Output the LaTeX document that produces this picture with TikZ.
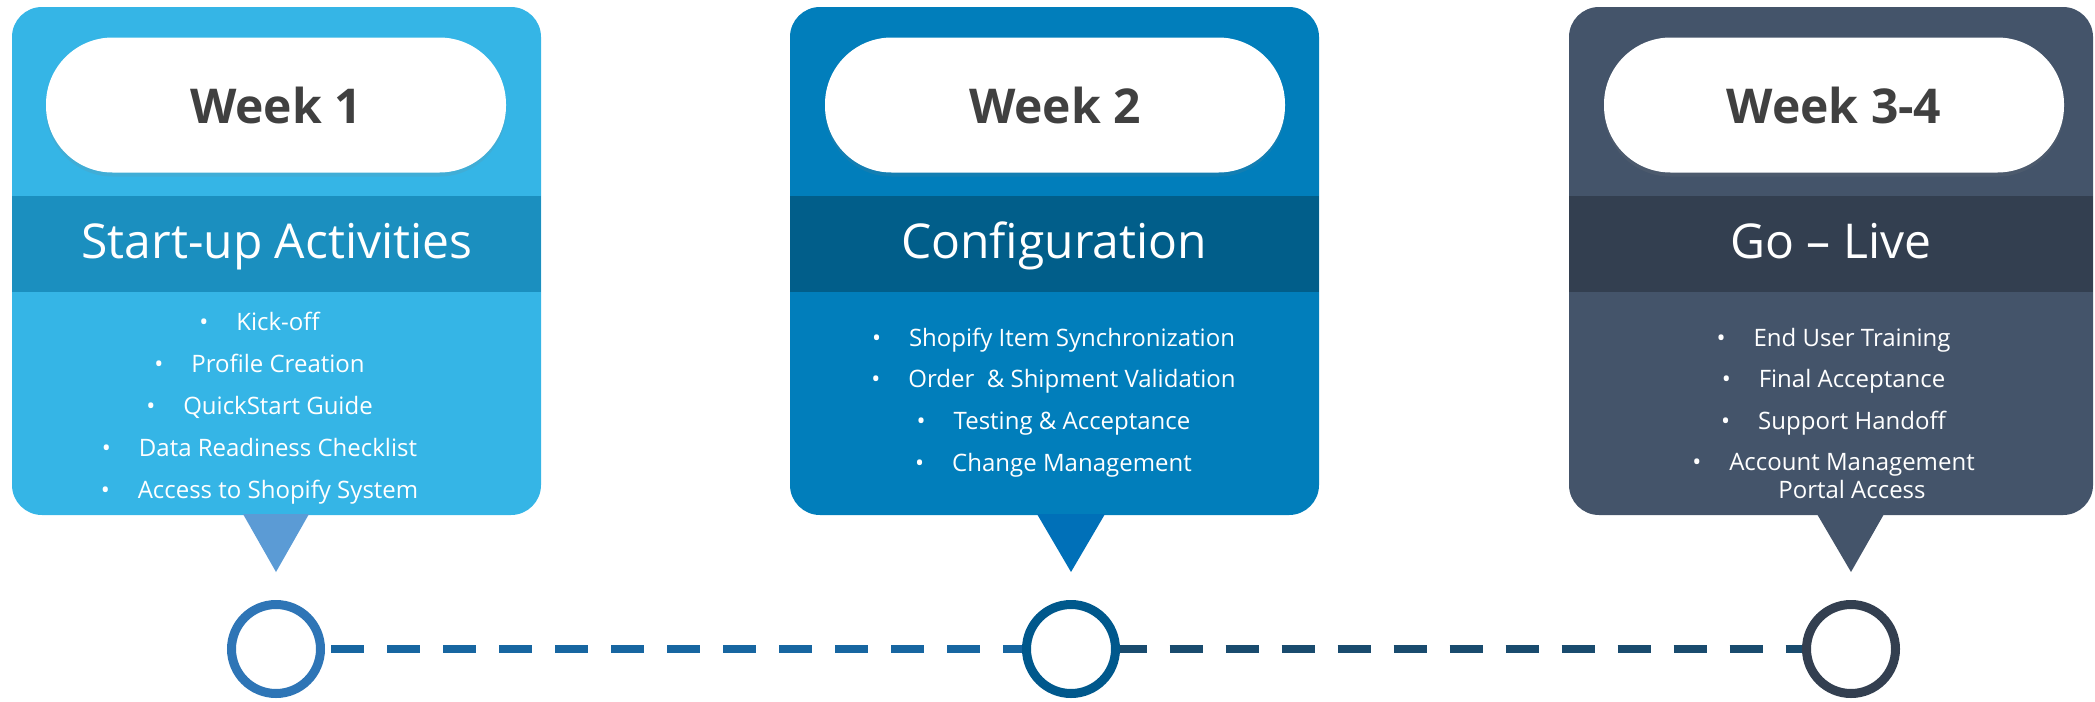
\documentclass[tikz,border=0pt]{standalone}
\usepackage{fontspec}
\setmainfont{Open Sans}
\usetikzlibrary{shadows}

\definecolor{boxA}{RGB}{53,181,230}
\definecolor{bandA}{RGB}{27,143,191}
\definecolor{triA}{RGB}{91,155,213}
\definecolor{ringA}{RGB}{46,117,182}
\definecolor{boxB}{RGB}{1,126,187}
\definecolor{bandB}{RGB}{1,94,138}
\definecolor{triB}{RGB}{0,112,184}
\definecolor{ringB}{RGB}{0,88,140}
\definecolor{boxC}{RGB}{68,84,106}
\definecolor{bandC}{RGB}{51,63,80}
\definecolor{weektext}{RGB}{64,64,64}
\definecolor{dashA}{RGB}{23,102,161}
\definecolor{dashB}{RGB}{25,75,110}

\newcommand{\itm}[1]{\llap{\textbullet\hspace{21pt}}#1}

\begin{document}
\begin{tikzpicture}[x=0.75pt, y=-0.75pt,
  pill/.style={rectangle, rounded corners=50pt, fill=white, minimum width=345pt,
    minimum height=101.25pt, text=weektext, font=\fontsize{36}{40}\selectfont\bfseries,
    drop shadow={opacity=0.15, shadow xshift=0pt, shadow yshift=-3pt}},
  title/.style={anchor=base, text=white, font=\fontsize{36}{40}\selectfont},
  item/.style={anchor=base, text=white, inner sep=0pt, font=\fontsize{18}{22}\selectfont},
  ring/.style={circle, fill=white, line width=6.75pt, minimum size=66.75pt,
    inner sep=0pt, outer sep=3.375pt},
  link/.style={line width=6pt, dash pattern=on 24.75pt off 17.25pt}]
  \useasboundingbox (0,0) rectangle (2095,701);

  \fill[boxA, rounded corners=22.5pt] (12,7) rectangle (541,515);
  \fill[bandA] (12,196) rectangle (541,292);
  \fill[triA] (243,514) -- (309,514) -- (276,572) -- cycle;
  \node[pill] (w1) at (276,105) {Week 1};
  \node[title] (t1) at (277,258) {Start-up Activities};
  \node[item] (a1) at (278,330) {\itm{Kick-off}};
  \node[item] (a2) at (278,372) {\itm{Profile Creation}};
  \node[item] (a3) at (278,414) {\itm{QuickStart Guide}};
  \node[item] (a4) at (278,456) {\itm{Data Readiness Checklist}};
  \node[item] (a5) at (278,498) {\itm{Access to Shopify System}};

  \fill[boxB, rounded corners=22.5pt] (790,7) rectangle (1319,515);
  \fill[bandB] (790,196) rectangle (1319,292);
  \fill[triB] (1037,514) -- (1105,514) -- (1071,572) -- cycle;
  \node[pill] (w2) at (1055,105) {Week 2};
  \node[title] (t2) at (1054,258) {Configuration};
  \node[item] (b1) at (1072,346) {\itm{Shopify Item Synchronization}};
  \node[item] (b2) at (1072,387) {\itm{Order~~\& Shipment Validation}};
  \node[item] (b3) at (1072,429) {\itm{Testing \& Acceptance}};
  \node[item] (b4) at (1072,471) {\itm{Change Management}};

  \fill[boxC, rounded corners=22.5pt] (1569,7) rectangle (2093,515);
  \fill[bandC] (1569,196) rectangle (2093,292);
  \fill[boxC] (1817,514) -- (1884,514) -- (1851,572) -- cycle;
  \node[pill] (w3) at (1834,105) {Week 3-4};
  \node[title] (t3) at (1831,258) {Go – Live};
  \node[item] (g1) at (1852,346) {\itm{End User Training}};
  \node[item] (g2) at (1852,387) {\itm{Final Acceptance}};
  \node[item] (g3) at (1852,429) {\itm{Support Handoff}};
  \node[item] (g4) at (1852,470) {\itm{Account Management}};
  \node[item] (g5) at (1852,498) {Portal Access};

  \node[ring, draw=ringA] (c1) at (276,649) {};
  \node[ring, draw=ringB] (c2) at (1071,649) {};
  \node[ring, draw=bandC] (c3) at (1851,649) {};
  \draw[link, draw=dashA, dash phase=37.5pt] (c1) -- (c2);
  \draw[link, draw=dashB, dash phase=4.8pt] (c2) -- (c3);

\end{tikzpicture}
\end{document}
